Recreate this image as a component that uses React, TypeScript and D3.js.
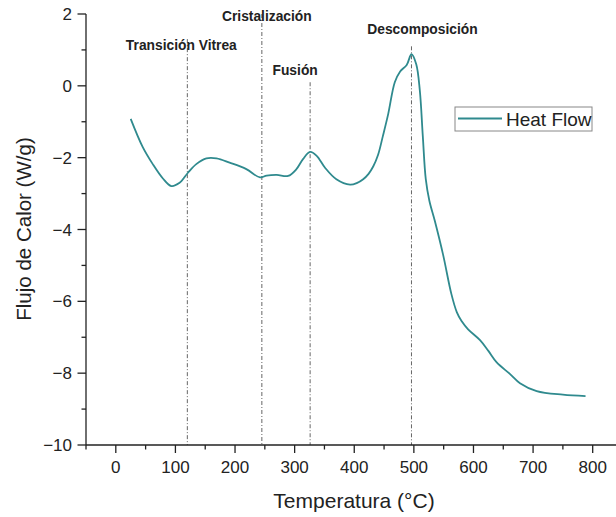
import React from "react";
import * as d3 from "d3";

const temps = [25, 45, 62, 79, 93, 107, 121, 135, 152, 169, 191, 219, 242, 253, 270, 289, 303, 314, 326, 337, 351, 370, 393, 405, 415, 424, 432, 440, 448, 457, 468, 477, 488, 496, 504, 510, 515, 520, 526, 535, 549, 563, 572, 580, 591, 611, 625, 639, 661, 678, 706, 750, 788];
const heatFlow = [-0.92, -1.7, -2.18, -2.58, -2.79, -2.7, -2.42, -2.18, -2.02, -2.02, -2.14, -2.32, -2.55, -2.5, -2.48, -2.51, -2.32, -2.04, -1.84, -1.95, -2.28, -2.6, -2.75, -2.7, -2.6, -2.45, -2.24, -1.92, -1.4, -0.78, 0.1, 0.4, 0.58, 0.88, 0.6, -0.13, -1.4, -2.6, -3.2, -3.75, -4.7, -5.8, -6.3, -6.55, -6.78, -7.08, -7.38, -7.7, -8.02, -8.28, -8.5, -8.6, -8.64];

const eventNames = ["Transición Vitrea", "Cristalización", "Fusión", "Descomposición"];
const eventTemps = [120, 245, 326, 496];
const eventLineTop = [1.3, 2.0, 0.1, 1.1];
const eventLabelY = [1.0, 1.8, 0.3, 1.45];

const xTicks = [0, 100, 200, 300, 400, 500, 600, 700, 800];
const yTicks = [2, 0, -2, -4, -6, -8, -10];

const W = 616, H = 517;
const x = d3.scaleLinear().domain([-50, 850]).range([86, 622.5]);
const y = d3.scaleLinear().domain([-10, 2]).range([445, 14]);

const color = "#2f8a8e";
const font = "Liberation Sans, Arial, sans-serif";
const fmt = (v: number) => (v < 0 ? "\u2212" + Math.abs(v) : String(v));

export default function App() {
  const pts = temps.map((t, i) => [t, heatFlow[i]] as [number, number]);
  const line = d3.line<[number, number]>().x(d => x(d[0])).y(d => y(d[1])).curve(d3.curveCatmullRom.alpha(0.5));
  const xMinor = d3.range(-50, 851, 50).filter(v => v % 100 !== 0);
  const yMinor = d3.range(-9, 2, 2);
  return (
    <svg width={W} height={H} style={{ position: "absolute", left: 0, top: 0, background: "#fff" }} fontFamily={font}>
      {eventTemps.map((t, i) => (
        <line key={"ev" + i} x1={x(t)} x2={x(t)} y1={y(eventLineTop[i])} y2={y(-10)} stroke="#666" strokeWidth={1} strokeDasharray="4,2,1,2" />
      ))}
      {eventNames.map((n, i) => (
        <text key={"evt" + i} x={x(eventTemps[i]) + [-6, 5, -15, 11][i]} y={y(eventLabelY[i])} textAnchor="middle" fontSize={13.8} fontWeight="bold" fill="#222">{n}</text>
      ))}
      <path d={line(pts) || ""} fill="none" stroke={color} strokeWidth={1.8} />
      <line x1={x(-50)} x2={W} y1={y(-10)} y2={y(-10)} stroke="#222" strokeWidth={1.3} />
      <line x1={x(-50)} x2={x(-50)} y1={y(-10)} y2={y(2)} stroke="#222" strokeWidth={1.3} />
      {xTicks.map(t => (
        <g key={"xt" + t}>
          <line x1={x(t)} x2={x(t)} y1={y(-10)} y2={y(-10) + 8} stroke="#222" strokeWidth={1.3} />
          <text x={x(t)} y={y(-10) + 28} textAnchor="middle" fontSize={17} fill="#222">{t}</text>
        </g>
      ))}
      {xMinor.map(t => (
        <line key={"xm" + t} x1={x(t)} x2={x(t)} y1={y(-10)} y2={y(-10) + 4.5} stroke="#222" strokeWidth={1.3} />
      ))}
      {yTicks.map(v => (
        <g key={"yt" + v}>
          <line x1={x(-50) - 8.5} x2={x(-50)} y1={y(v)} y2={y(v)} stroke="#222" strokeWidth={1.3} />
          <text x={72} y={y(v) + 6} textAnchor="end" fontSize={17} fill="#222">{fmt(v)}</text>
        </g>
      ))}
      {yMinor.map(v => (
        <line key={"ym" + v} x1={x(-50) - 4.5} x2={x(-50)} y1={y(v)} y2={y(v)} stroke="#222" strokeWidth={1.3} />
      ))}
      <text x={354} y={508} textAnchor="middle" fontSize={21} fill="#222">Temperatura (°C)</text>
      <text transform="translate(31,229) rotate(-90)" textAnchor="middle" fontSize={20.5} fill="#222">Flujo de Calor (W/g)</text>
      <rect x={455} y={107} width={137} height={24} fill="#fff" stroke="#888" strokeWidth={1} />
      <line x1={458} x2={502} y1={118.5} y2={118.5} stroke={color} strokeWidth={1.8} />
      <text x={506} y={125.5} fontSize={19} fill="#222">Heat Flow</text>
    </svg>
  );
}
